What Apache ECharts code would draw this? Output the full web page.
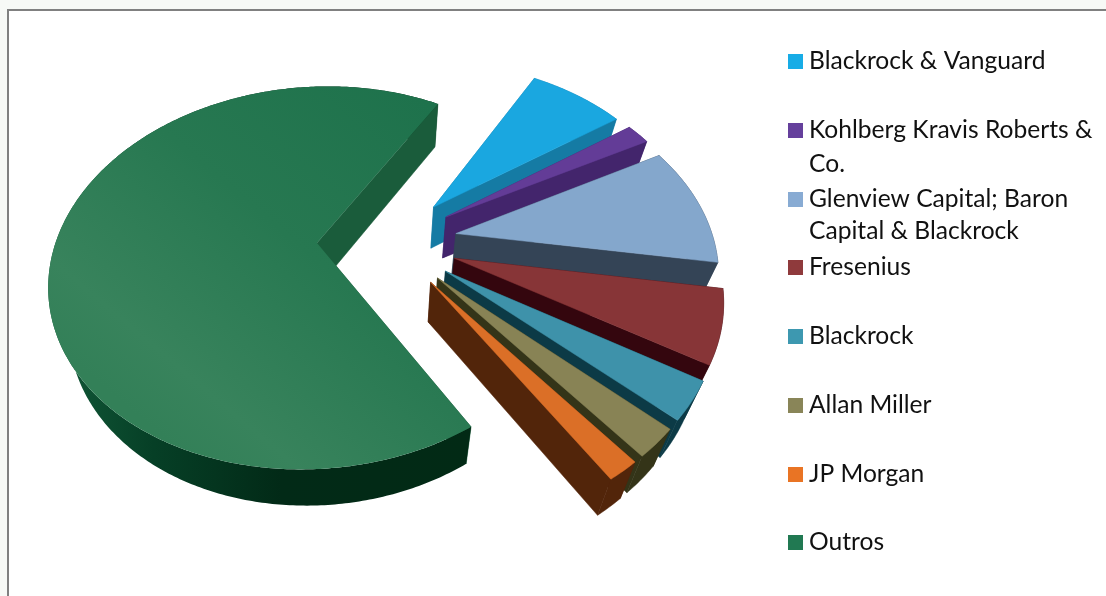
<!DOCTYPE html>
<html>
<head>
<meta charset="utf-8">
<style>html,body{margin:0;padding:0;background:#fff}#c{width:1106px;height:596px}</style>
<script src="https://cdn.jsdelivr.net/npm/echarts@6/dist/echarts.min.js"></script>
</head>
<body>
<div id="c"></div>
<script>
// Ownership shares, in percent, in drawing order (clockwise).
const holders = ['Blackrock & Vanguard', 'Kohlberg Kravis Roberts & Co.', 'Glenview Capital; Baron Capital & Blackrock', 'Fresenius', 'Blackrock', 'Allan Miller', 'JP Morgan', 'Outros'];
const shares = [7.2, 1.8, 10.3, 6.1, 3.2, 2.4, 1.7, 67.3];
const legendLines = [['Blackrock & Vanguard'], ['Kohlberg Kravis Roberts &', 'Co.'], ['Glenview Capital; Baron', 'Capital & Blackrock'], ['Fresenius'], ['Blackrock'], ['Allan Miller'], ['JP Morgan'], ['Outros']];
const legendLineGaps = [34, 34, 32, 34, 34, 34, 34, 34];
const topColors = ['#1AA7E0', '#633C97', '#84A7CC', '#873537', '#3E92AA', '#888355', '#DB6F27', '#24764F'];
const legendColors = ['#17ACE6', '#65409C', '#88ABD3', '#8F3A3C', '#3D98B0', '#898558', '#E97424', '#217952'];
const sideColors = ['#157BA4', '#43256C', '#344456', '#34060E', '#0C3A46', '#343418', '#52250A', '#1A5C3B'];
const legendCenters = [61.5, 130.5, 199.5, 267.5, 336.5, 405.5, 474.5, 542.5];
const explosions = [0.265, 0.265, 0.265, 0.265, 0.265, 0.265, 0.265, 0.279];
const sliceScales = [1, 1, 1, 1, 1, 1, 1, 1.012];

// Tilted-disc projection of the pie
const view = { cx: 389, cy: 241.5, radius: 258, tilt: 0.707, persp: 0.18, startAngle: 29.5, bottomScale: 0.94, depth: 40.5, depthFall: 0.0187 };
const total = shares.reduce((a, b) => a + b, 0);

function projectTop(wx, wy) {
  const s = 1 / (1 - view.persp * wy);
  return [view.cx + view.radius * wx * s, view.cy + view.radius * view.tilt * wy * s];
}
function dropToBottom(p) {
  return [view.cx + (p[0] - view.cx) * view.bottomScale, p[1] + view.depth - (p[1] - view.cy) * view.depthFall];
}
function poly(points, fill, z2) {
  return { type: 'polygon', z2: z2, shape: { points: points }, style: { fill: fill, stroke: fill, lineWidth: typeof fill === 'string' ? 0.5 : 0 }, silent: true };
}

function sliceRenderer(index) {
  return function (params, api) {
    const before = shares.slice(0, index).reduce((a, b) => a + b, 0);
    const sweep = api.value(0) / total * 360;
    const a0 = (view.startAngle + before / total * 360) * Math.PI / 180;
    const a1 = a0 + sweep * Math.PI / 180;
    const mid = (a0 + a1) / 2;
    const ox = explosions[index] * Math.sin(mid), oy = -explosions[index] * Math.cos(mid);
    const size = sliceScales[index];
    const arc = [];
    const steps = Math.max(6, Math.ceil(sweep * 1.5));
    for (let i = 0; i <= steps; i++) {
      const a = a0 + (a1 - a0) * i / steps;
      arc.push(projectTop(ox + size * Math.sin(a), oy - size * Math.cos(a)));
    }
    const apex = projectTop(ox, oy);
    const apexB = dropToBottom(apex);
    const arcB = arc.map(dropToBottom);
    const first = arc[0], last = arc[arc.length - 1];
    const isOutros = holders[index] === 'Outros';
    const side = sideColors[index];
    let rim = side, top = topColors[index];
    if (isOutros) {
      rim = new echarts.graphic.LinearGradient(0, 0, 1, 0, [
        { offset: 0, color: '#125A39' }, { offset: 0.25, color: '#063F26' },
        { offset: 0.55, color: '#022A17' }, { offset: 1, color: '#022A15' }]);
      top = new echarts.graphic.LinearGradient(0.85, 0, 0.2, 0.85, [
        { offset: 0, color: '#1E724C' }, { offset: 0.45, color: '#277851' },
        { offset: 0.85, color: '#38835C' }, { offset: 1, color: '#338058' }]);
    }
    return {
      type: 'group',
      children: [
        poly([apex, first, dropToBottom(first), apexB], side, 1),
        poly(arc.concat(arcB.slice().reverse()), rim, 2),
        poly([apex, last, dropToBottom(last), apexB], side, 3),
        poly([apex].concat(arc), top, 4)
      ]
    };
  };
}

const chart = echarts.init(document.getElementById('c'));

chart.setOption({
  animation: false,
  backgroundColor: '#F7F9F6',
  graphic: [{
    type: 'rect', z: -10, silent: true,
    shape: { x: 8, y: 10, width: 1200, height: 700 },
    style: { fill: '#fff', stroke: '#808080', lineWidth: 2 }
  }],
  legend: holders.map(function (name, i) {
    const lines = legendLines[i];
    const gap = legendLineGaps[i];
    // A blank leading line keeps the swatch level with the first text line
    const text = lines.length > 1 ? '\n' + lines.join('\n') : lines[0];
    return {
      left: 788, top: legendCenters[i] - (lines.length > 1 ? 1.5 * gap : gap / 2), padding: 0,
      itemWidth: 15, itemHeight: 15, selectedMode: false,
      data: [{ name: name, icon: 'rect', itemStyle: { color: legendColors[i] } }],
      formatter: function () { return text; },
      textStyle: { fontFamily: 'Lato', fontSize: 24.6, color: '#111', lineHeight: gap, padding: [0, 0, 0, 1] }
    };
  }),
  series: holders.map(function (name, i) {
    return {
      type: 'custom', name: name, coordinateSystem: 'none', z: 2 + i, silent: true,
      itemStyle: { color: legendColors[i] },
      renderItem: sliceRenderer(i),
      data: [[shares[i]]]
    };
  })
});
</script>
</body>
</html>
